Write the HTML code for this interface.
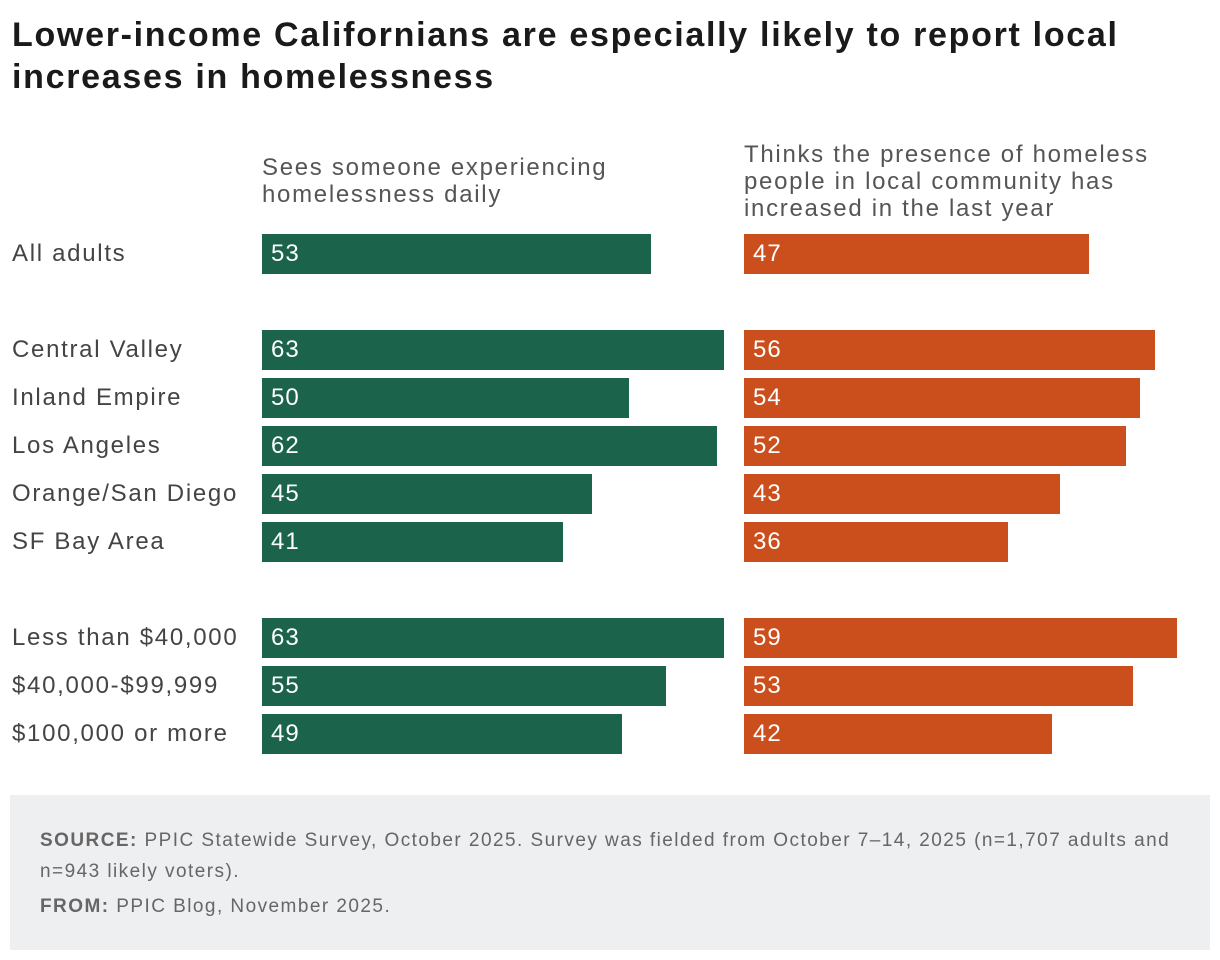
<!DOCTYPE html>
<html><head><meta charset="utf-8"><style>
body{margin:0;width:1220px;height:960px;background:#fff;font-family:"Liberation Sans",sans-serif;position:relative;overflow:hidden}
.t{position:absolute;left:12px;top:14px;font-size:34px;font-weight:bold;color:#1a1a1a;line-height:42px;letter-spacing:1.7px}
.h{position:absolute;font-size:24px;color:#555;line-height:27px;letter-spacing:1.7px}
.lab{position:absolute;left:12px;font-size:24px;color:#444;line-height:40px;letter-spacing:1.7px}
.bar{position:absolute;height:40px}
.v{position:absolute;color:#fff;font-size:24px;line-height:40px;letter-spacing:1px}
.src{position:absolute;left:10px;top:795px;width:1200px;height:155px;background:#eeeff0}
.src p{margin:0;position:absolute;left:30px;font-size:19px;color:#666;line-height:31px;letter-spacing:1.45px}
</style></head><body>
<div class="t">Lower-income Californians are especially likely to report local<br>increases in homelessness</div>
<div class="h" style="left:262px;top:154px">Sees someone experiencing<br>homelessness daily</div>
<div class="h" style="left:744px;top:141px">Thinks the presence of homeless<br>people in local community has<br>increased in the last year</div>
<div id="chart"></div>
<div class="src">
<p style="top:30px"><b>SOURCE:</b> PPIC Statewide Survey, October 2025. Survey was fielded from October 7–14, 2025 (n=1,707 adults and<br>n=943 likely voters).</p>
<p style="top:96px"><b>FROM:</b> PPIC Blog, November 2025.</p>
</div>
<script>
const categories=["All adults","Central Valley","Inland Empire","Los Angeles","Orange/San Diego","SF Bay Area","Less than $40,000","$40,000-$99,999","$100,000 or more"];
const seesDaily=[53,63,50,62,45,41,63,55,49];
const increased=[47,56,54,52,43,36,59,53,42];
const rowTops=[234,330,378,426,474,522,618,666,714];
const scale=7.34;
const c=document.getElementById('chart');
function add(cls,css,txt){const d=document.createElement('div');d.className=cls;d.style.cssText=css;if(txt!==undefined)d.textContent=txt;c.appendChild(d);return d;}
categories.forEach((cat,i)=>{
 const y=rowTops[i];
 const l=add('lab','top:'+y+'px',cat);
 
 
 const b1=add('bar','left:262px;top:'+y+'px;width:'+(seesDaily[i]*scale)+'px;background:#1b634a');
 
 
 const v1=add('v','left:271px;top:'+y+'px',seesDaily[i]);
 
 
 const b2=add('bar','left:744px;top:'+y+'px;width:'+(increased[i]*scale)+'px;background:#cb4f1c');
 
 
 const v2=add('v','left:753px;top:'+y+'px',increased[i]);
 
 
});
</script>
</body></html>
